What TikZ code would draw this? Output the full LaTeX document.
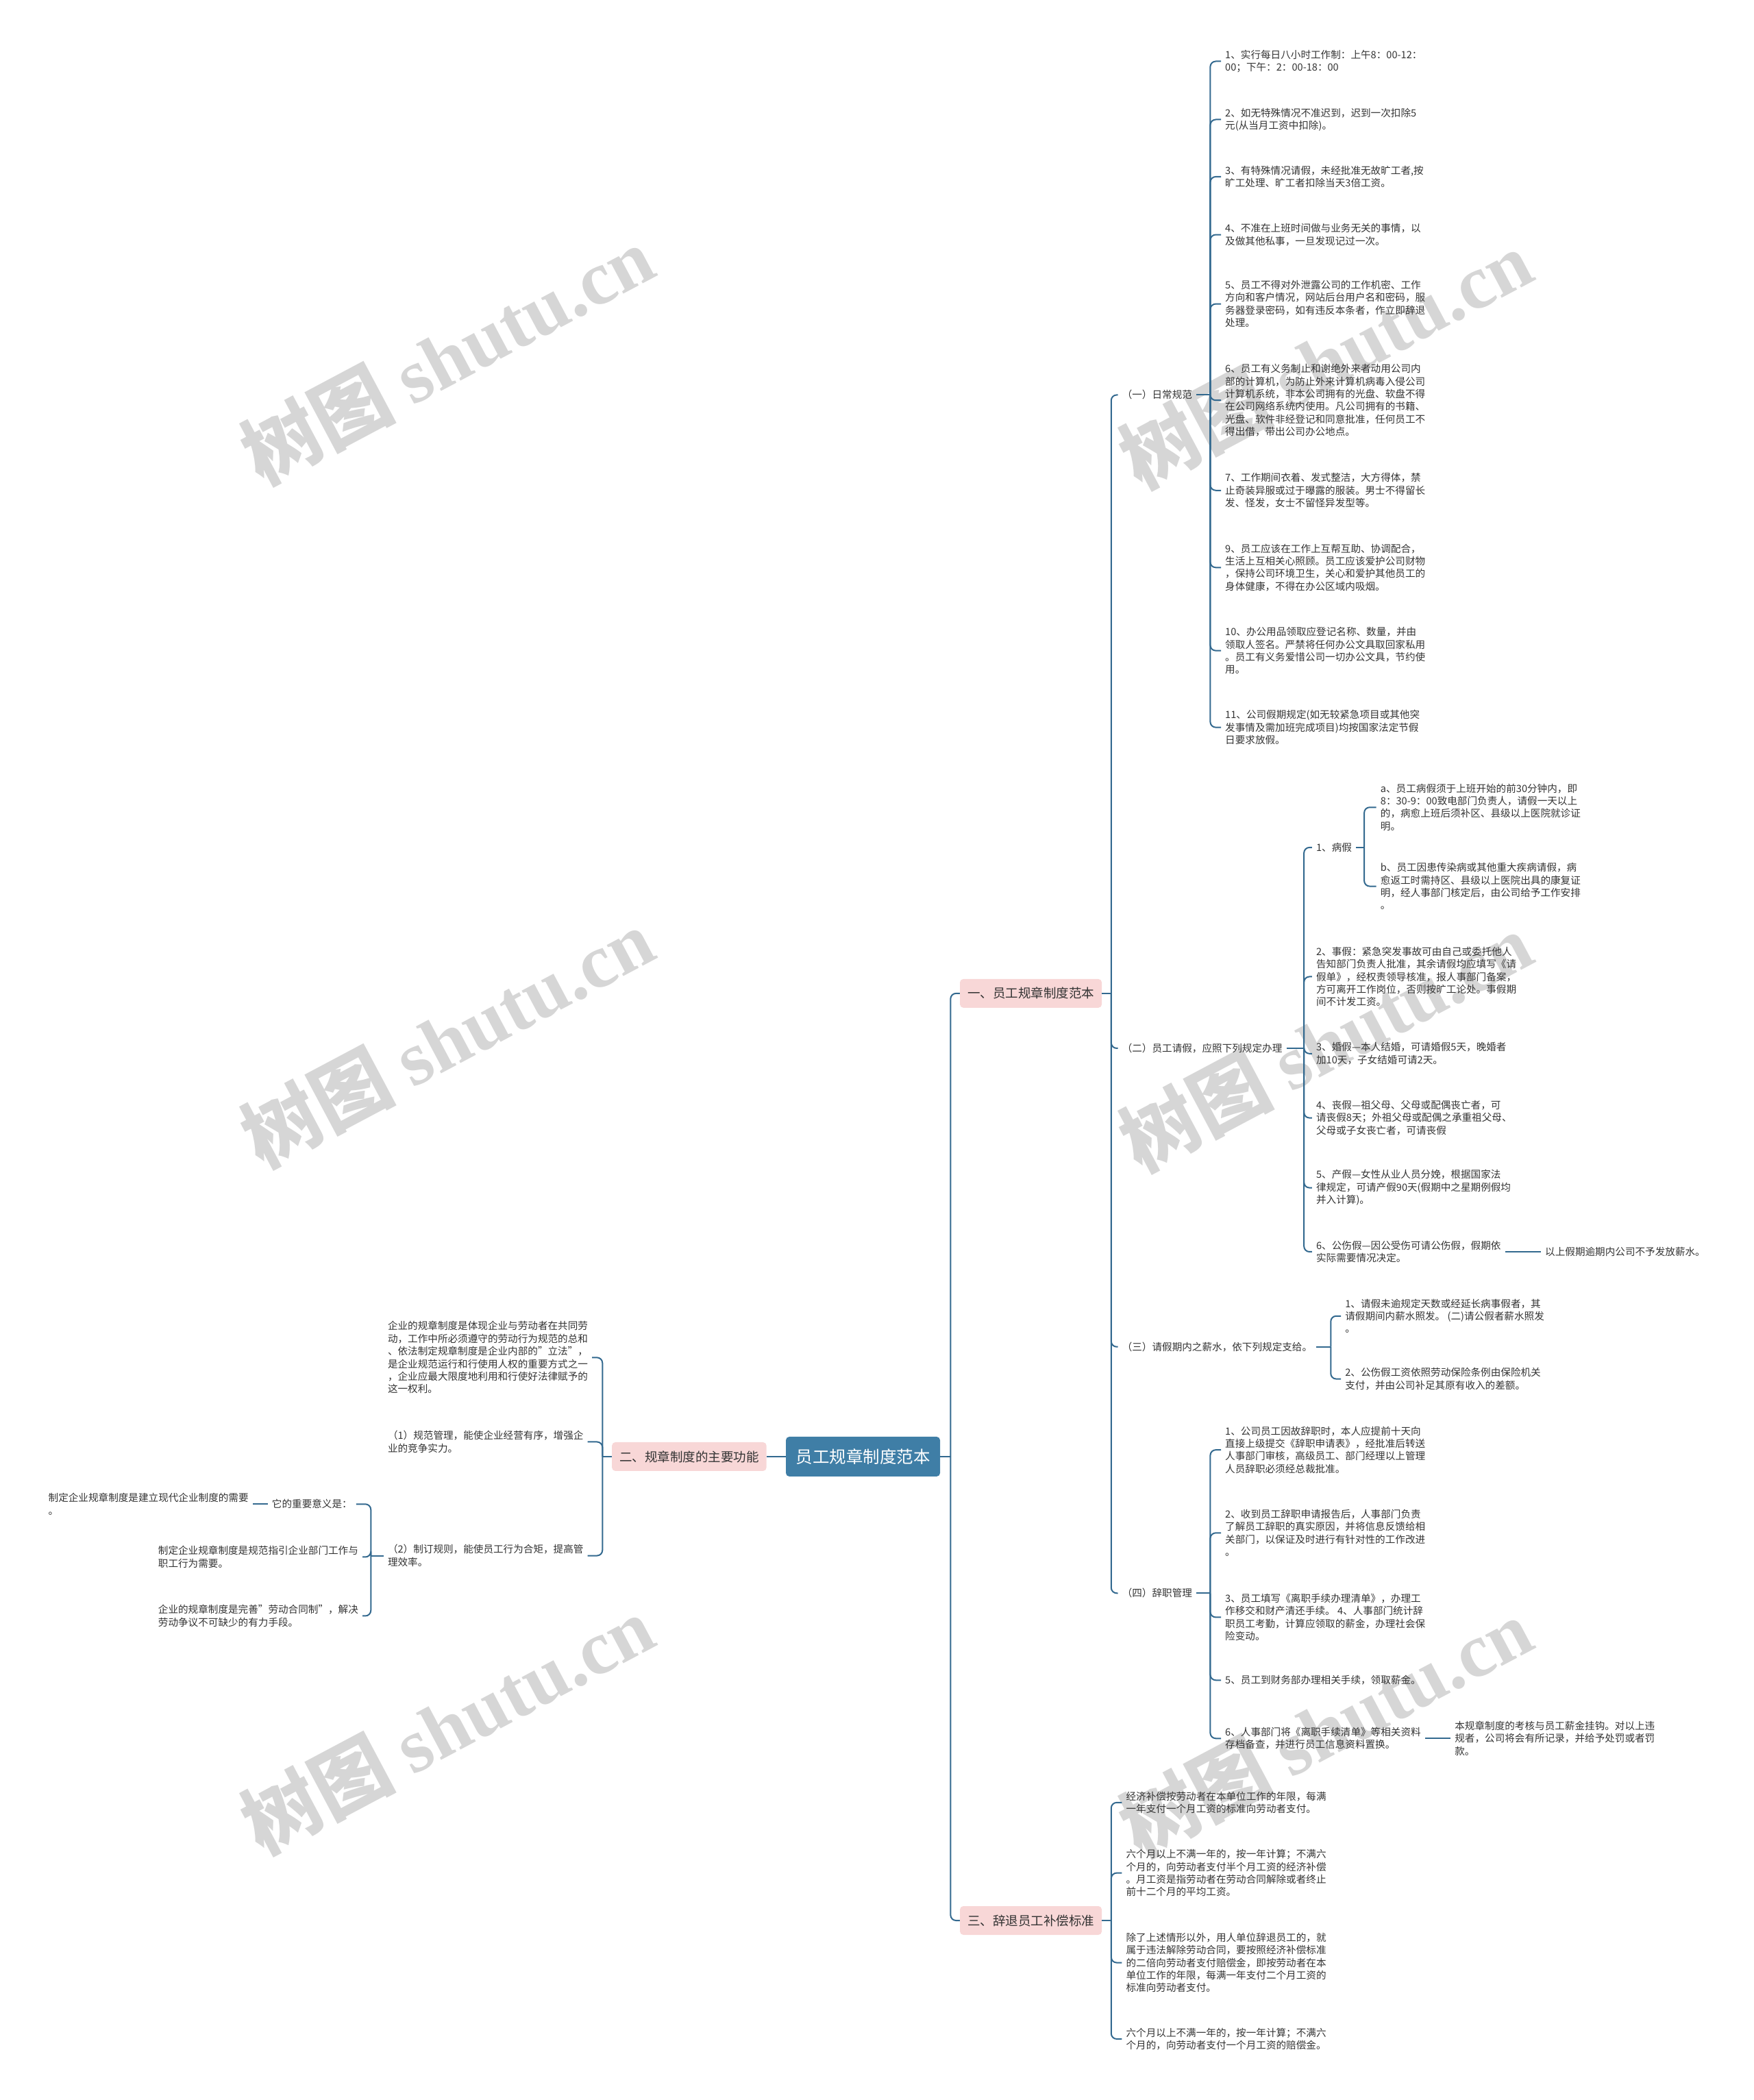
\documentclass[tikz,border=0pt]{standalone}
\usepackage{fontspec}
\setmainfont{Noto Sans CJK SC}
\newfontfamily\marklatin{Liberation Serif}
\definecolor{trunk}{HTML}{33698F}
\definecolor{rootfill}{HTML}{3F7EA6}
\definecolor{blush}{HTML}{F8D7D7}
\definecolor{ink}{HTML}{333333}
\definecolor{mark}{HTML}{D6D6D6}
\tikzset{
  rootbox/.style={fill=rootfill, rounded corners=5pt, text=white,
    font=\fontsize{24.5}{28}\selectfont, inner xsep=14.5pt, minimum height=58pt},
  topicbox/.style={fill=blush, rounded corners=5pt, text=ink,
    font=\fontsize{18.5}{22}\selectfont, inner xsep=11pt, minimum height=42pt},
  leaf/.style={anchor=west, text=ink, font=\fontsize{14.6}{18.4}\selectfont,
    align=left, inner xsep=6pt, inner ysep=2pt},
  link/.style={draw=trunk, line width=2pt, rounded corners=8pt},
  wmark/.style={text=mark, rotate=28, font=\fontsize{112}{112}\selectfont\bfseries},
}

\begin{document}
\begin{tikzpicture}[x=1.954pt,y=-1.954pt]
\useasboundingbox (0,0) rectangle (1310.1,1568.6);

% ----- watermark -----
\foreach \i/\wx/\wy in {1/334/265, 2/990/268, 3/334/775, 4/990/778, 5/334/1288, 6/990/1290}
  \node[wmark] (wm\i) at (\wx,\wy) {树图 {\marklatin shutu.cn}};

% ----- centre and main topics -----
\node[rootbox] (root) at (644.6,1088) {员工规章制度范本};
\node[topicbox] (t1) at (770,742) {一、员工规章制度范本};
\node[topicbox] (t2) at (514.8,1088) {二、规章制度的主要功能};
\node[topicbox] (t3) at (770,1434.5) {三、辞退员工补偿标准};

% bracket columns
\coordinate (bm) at (710,0);
\coordinate (b1) at (830,0);
\coordinate (b11) at (904,0);
\coordinate (b12) at (974,0);
\coordinate (b121) at (1019,0);
\coordinate (b13) at (994,0);
\coordinate (b14) at (904,0);
\coordinate (b3) at (830,0);
\coordinate (b2) at (450,0);
\coordinate (b23) at (277,0);

% ----- 一 : sub topics -----
\node[leaf] (rule) at (835,295) {（一）日常规范};
\node[leaf] (leave) at (835,783) {（二）员工请假，应照下列规定办理};
\node[leaf] (pay) at (835,1006) {（三）请假期内之薪水，依下列规定支给。};
\node[leaf] (quit) at (835,1190) {（四）辞职管理};

% ----- (一) daily rules -----
\node[leaf] (rule1) at (912,45.8) {1、实行每日八小时工作制：上午8：00-12：\\00；下午：2：00-18：00};
\node[leaf] (rule2) at (912,89.3) {2、如无特殊情况不准迟到，迟到一次扣除5\\元(从当月工资中扣除)。};
\node[leaf] (rule3) at (912,132) {3、有特殊情况请假，未经批准无故旷工者,按\\旷工处理、旷工者扣除当天3倍工资。};
\node[leaf] (rule4) at (912,175.3) {4、不准在上班时间做与业务无关的事情，以\\及做其他私事，一旦发现记过一次。};
\node[leaf] (rule5) at (912,227) {5、员工不得对外泄露公司的工作机密、工作\\方向和客户情况，网站后台用户名和密码，服\\务器登录密码，如有违反本条者，作立即辞退\\处理。};
\node[leaf] (rule6) at (912,299) {6、员工有义务制止和谢绝外来者动用公司内\\部的计算机，为防止外来计算机病毒入侵公司\\计算机系统，非本公司拥有的光盘、软盘不得\\在公司网络系统内使用。凡公司拥有的书籍、\\光盘、软件非经登记和同意批准，任何员工不\\得出借，带出公司办公地点。};
\node[leaf] (rule7) at (912,366.3) {7、工作期间衣着、发式整洁，大方得体，禁\\止奇装异服或过于曝露的服装。男士不得留长\\发、怪发，女士不留怪异发型等。};
\node[leaf] (rule9) at (912,423.9) {9、员工应该在工作上互帮互助、协调配合，\\生活上互相关心照顾。员工应该爱护公司财物\\，保持公司环境卫生，关心和爱护其他员工的\\身体健康，不得在办公区域内吸烟。};
\node[leaf] (rule10) at (912,486) {10、办公用品领取应登记名称、数量，并由\\领取人签名。严禁将任何办公文具取回家私用\\。员工有义务爱惜公司一切办公文具，节约使\\用。};
\node[leaf] (rule11) at (912,543.3) {11、公司假期规定(如无较紧急项目或其他突\\发事情及需加班完成项目)均按国家法定节假\\日要求放假。};

% ----- (二) leave -----
\node[leaf] (leave1) at (980,633) {1、病假};
\node[leaf] (leave1a) at (1028,603) {a、员工病假须于上班开始的前30分钟内，即\\8：30-9：00致电部门负责人，请假一天以上\\的，病愈上班后须补区、县级以上医院就诊证\\明。};
\node[leaf] (leave1b) at (1028,662) {b、员工因患传染病或其他重大疾病请假，病\\愈返工时需持区、县级以上医院出具的康复证\\明，经人事部门核定后，由公司给予工作安排\\。};
\node[leaf] (leave2) at (980,729.5) {2、事假：紧急突发事故可由自己或委托他人\\告知部门负责人批准，其余请假均应填写《请\\假单》，经权责领导核准，报人事部门备案，\\方可离开工作岗位，否则按旷工论处。事假期\\间不计发工资。};
\node[leaf] (leave3) at (980,787) {3、婚假—本人结婚，可请婚假5天，晚婚者\\加10天，子女结婚可请2天。};
\node[leaf] (leave4) at (980,835) {4、丧假—祖父母、父母或配偶丧亡者，可\\请丧假8天；外祖父母或配偶之承重祖父母、\\父母或子女丧亡者，可请丧假};
\node[leaf] (leave5) at (980,887.2) {5、产假—女性从业人员分娩，根据国家法\\律规定，可请产假90天(假期中之星期例假均\\并入计算)。};
\node[leaf] (leave6) at (980,935) {6、公伤假—因公受伤可请公伤假，假期依\\实际需要情况决定。};
\node[leaf] (leave6a) at (1151,935) {以上假期逾期内公司不予发放薪水。};

% ----- (三) pay during leave -----
\node[leaf] (pay1) at (1001.6,983) {1、请假未逾规定天数或经延长病事假者，其\\请假期间内薪水照发。 (二)请公假者薪水照发\\。};
\node[leaf] (pay2) at (1001.6,1030) {2、公伤假工资依照劳动保险条例由保险机关\\支付，并由公司补足其原有收入的差额。};

% ----- (四) resignation -----
\node[leaf] (quit1) at (912,1083) {1、公司员工因故辞职时，本人应提前十天向\\直接上级提交《辞职申请表》，经批准后转送\\人事部门审核，高级员工、部门经理以上管理\\人员辞职必须经总裁批准。};
\node[leaf] (quit2) at (912,1145) {2、收到员工辞职申请报告后，人事部门负责\\了解员工辞职的真实原因，并将信息反馈给相\\关部门，以保证及时进行有针对性的工作改进\\。};
\node[leaf] (quit3) at (912,1208) {3、员工填写《离职手续办理清单》，办理工\\作移交和财产清还手续。 4、人事部门统计辞\\职员工考勤，计算应领取的薪金，办理社会保\\险变动。};
\node[leaf] (quit5) at (912,1255) {5、员工到财务部办理相关手续，领取薪金。};
\node[leaf] (quit6) at (912,1298.5) {6、人事部门将《离职手续清单》等相关资料\\存档备查，并进行员工信息资料置换。};
\node[leaf] (quit6a) at (1083.5,1298.5) {本规章制度的考核与员工薪金挂钩。对以上违\\规者，公司将会有所记录，并给予处罚或者罚\\款。};

% ----- 三 : compensation -----
\node[leaf] (comp1) at (838,1346.4) {经济补偿按劳动者在本单位工作的年限，每满\\一年支付一个月工资的标准向劳动者支付。};
\node[leaf] (comp2) at (838,1399) {六个月以上不满一年的，按一年计算；不满六\\个月的，向劳动者支付半个月工资的经济补偿\\。月工资是指劳动者在劳动合同解除或者终止\\前十二个月的平均工资。};
\node[leaf] (comp3) at (838,1466) {除了上述情形以外，用人单位辞退员工的，就\\属于违法解除劳动合同，要按照经济补偿标准\\的二倍向劳动者支付赔偿金，即按劳动者在本\\单位工作的年限，每满一年支付二个月工资的\\标准向劳动者支付。};
\node[leaf] (comp4) at (838,1523) {六个月以上不满一年的，按一年计算；不满六\\个月的，向劳动者支付一个月工资的赔偿金。};

% ----- 二 : functions (left side) -----
\node[leaf] (func1) at (286.5,1014) {企业的规章制度是体现企业与劳动者在共同劳\\动，工作中所必须遵守的劳动行为规范的总和\\、依法制定规章制度是企业内部的”立法”，\\是企业规范运行和行使用人权的重要方式之一\\，企业应最大限度地利用和行使好法律赋予的\\这一权利。};
\node[leaf] (func2) at (286.5,1077) {（1）规范管理，能使企业经营有序，增强企\\业的竞争实力。};
\node[leaf] (func3) at (286.5,1162) {（2）制订规则，能使员工行为合矩，提高管\\理效率。};
\node[leaf] (mean1) at (200,1123.5) {它的重要意义是：};
\node[leaf] (mean1a) at (33,1123.5) {制定企业规章制度是建立现代企业制度的需要\\。};
\node[leaf] (mean2) at (115,1163) {制定企业规章制度是规范指引企业部门工作与\\职工行为需要。};
\node[leaf] (mean3) at (115,1207) {企业的规章制度是完善”劳动合同制”，解决\\劳动争议不可缺少的有力手段。};

% ----- connectors -----
\draw[link] (root.east) -- (root.east -| bm);
\foreach \c in {t1,t3} \draw[link] (root.east -| bm) |- (\c.west);
\draw[link] (root.west) -- (t2.east);

\draw[link] (t1.east) -- (t1.east -| b1);
\foreach \c in {rule,leave,pay,quit} \draw[link] (t1.east -| b1) |- (\c.west);

\draw[link] (rule.east) -- (rule.east -| b11);
\foreach \c in {1,2,3,4,5,6,7,9,10,11} \draw[link] (rule.east -| b11) |- (rule\c.west);

\draw[link] (leave.east) -- (leave.east -| b12);
\foreach \c in {1,...,6} \draw[link] (leave.east -| b12) |- (leave\c.west);
\draw[link] (leave1.east) -- (leave1.east -| b121);
\foreach \c in {a,b} \draw[link] (leave1.east -| b121) |- (leave1\c.west);
\draw[link] (leave6.east) -- (leave6a.west);

\draw[link] (pay.east) -- (pay.east -| b13);
\foreach \c in {1,2} \draw[link] (pay.east -| b13) |- (pay\c.west);

\draw[link] (quit.east) -- (quit.east -| b14);
\foreach \c in {1,2,3,5,6} \draw[link] (quit.east -| b14) |- (quit\c.west);
\draw[link] (quit6.east) -- (quit6a.west);

\draw[link] (t3.east) -- (t3.east -| b3);
\foreach \c in {1,...,4} \draw[link] (t3.east -| b3) |- (comp\c.west);

\draw[link] (t2.west) -- (t2.west -| b2);
\foreach \c in {1,2,3} \draw[link] (t2.west -| b2) |- (func\c.east);
\draw[link] (func3.west) -- (func3.west -| b23);
\foreach \c in {1,2,3} \draw[link] (func3.west -| b23) |- (mean\c.east);
\draw[link] (mean1.west) -- (mean1a.east);

\end{tikzpicture}
\end{document}
